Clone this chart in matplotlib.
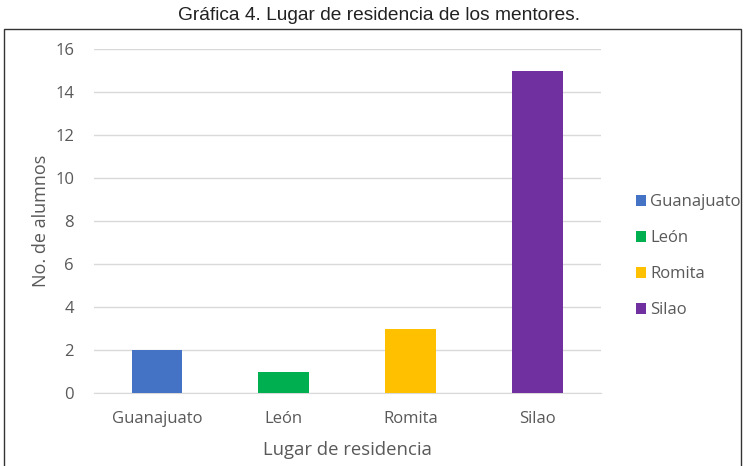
import matplotlib.pyplot as plt
from matplotlib.patches import Rectangle, Patch

# Datos
lugares = ["Guanajuato", "León", "Romita", "Silao"]
alumnos = [2, 1, 3, 15]
colores = ["#4472C4", "#00B050", "#FFC000", "#7030A0"]

W, H = 744, 466
fig = plt.figure(figsize=(W / 100, H / 100), dpi=100)
fig.patch.set_facecolor("white")

# Titulo fuera del recuadro
fig.text(379 / W, 1 - 16 / H, "Gráfica 4. Lugar de residencia de los mentores.",
         ha="center", va="center", fontsize=13.8,
         family=["Liberation Sans", "DejaVu Sans"], color="#222222")

# Recuadro del grafico
fig.patches.append(Rectangle((4 / W, -0.01), 737 / W, 1 - 29 / H + 0.01,
                             transform=fig.transFigure, fill=False,
                             edgecolor="#333333", linewidth=1.0))

ax = fig.add_axes([93.5 / W, 1 - 393 / H, (601 - 93.5) / W, (393 - 49) / H])
x = range(len(lugares))
ax.bar(x, alumnos, width=0.4, color=colores, zorder=3)

ax.set_ylim(0, 16)
ax.set_xlim(-0.5, len(lugares) - 0.5)
ax.set_yticks(range(0, 17, 2))
ax.set_xticks(list(x))
ax.set_xticklabels(lugares)

fuente = ["Open Sans", "DejaVu Sans"]
gris = "#595959"
for lab in ax.get_xticklabels() + ax.get_yticklabels():
    lab.set_family(fuente)
    lab.set_fontsize(12)
    lab.set_color(gris)
ax.tick_params(length=0)
ax.tick_params(axis="x", pad=13)
ax.tick_params(axis="y", pad=14)

ax.grid(axis="y", color="#D9D9D9", linewidth=1, zorder=0)
for s in ["top", "right", "left"]:
    ax.spines[s].set_visible(False)
ax.spines["bottom"].set_color("#D9D9D9")

ax.set_xlabel("Lugar de residencia", family=fuente, fontsize=13.3, color=gris, labelpad=10)
ax.set_ylabel("No. de alumnos", family=fuente, fontsize=13, color=gris, labelpad=4)

handles = [Patch(facecolor=c, label=l) for c, l in zip(colores, lugares)]
fig.legend(handles=handles, loc="center left", bbox_to_anchor=(621 / W, 1 - 256.5 / H),
           frameon=False, handlelength=0.6, handleheight=0.6, handletextpad=0.25,
           labelspacing=1.2, prop={"family": fuente, "size": 12}, labelcolor=gris)

fig.savefig("out.png", dpi=100)
